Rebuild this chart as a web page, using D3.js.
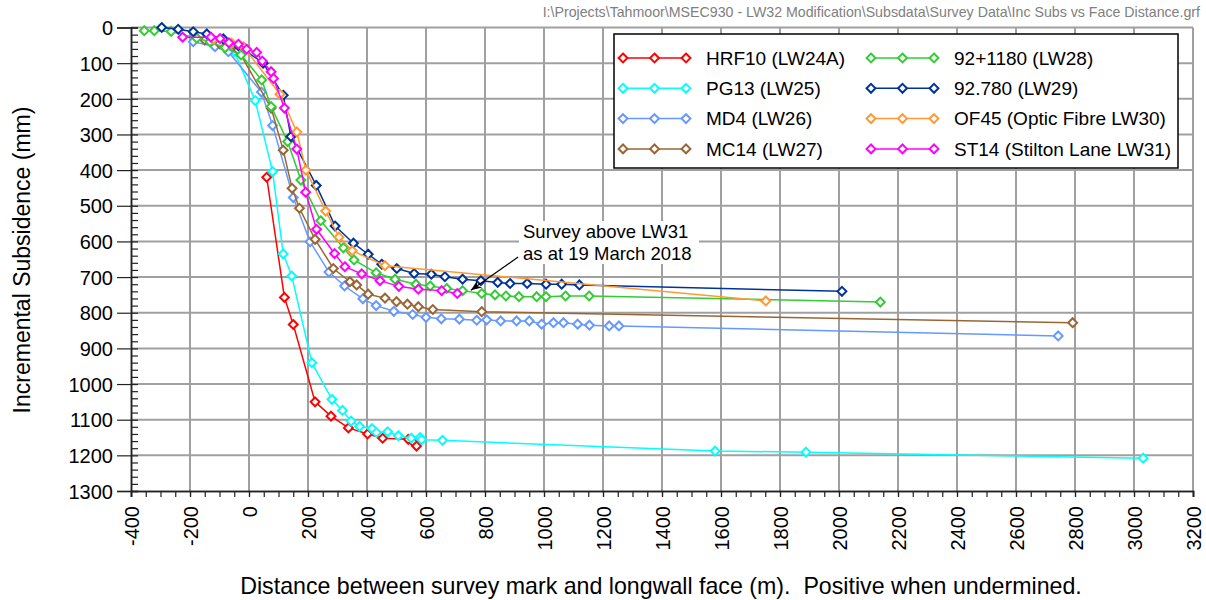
<!DOCTYPE html>
<html>
<head>
  <meta charset="utf-8">
  <style>
    body {
      margin: 0;
      background: white;
    }
    text {
      font-family: Arial, "Liberation Sans", sans-serif;
    }
  </style>
</head>
<body>
  <script src="https://d3js.org/d3.v7.min.js"></script>
  <script>
    var width = 1206, height = 600;

    // values: [distance (m), subsidence (mm)]
    var hrf10 = [[60,420],[120,757],[150,833],[224,1050],[278,1090],[337,1123],[402,1140],[453,1152],[540,1155],[560,1165],[568,1174]];
    var pg13 = [[-120,50],[-50,67],[21,205],[80,404],[116,635],[145,697],[213,940],[281,1043],[317,1074],[346,1104],[375,1119],[417,1125],[432,1136],[470,1134],[506,1145],[550,1152],[580,1150],[585,1156],[656,1158],[1580,1188],[1888,1191],[3031,1208]];
    var md4 = [[-189,40],[-115,54],[-70,68],[42,181],[80,275],[150,477],[207,601],[271,686],[324,725],[386,761],[431,780],[491,796],[555,805],[600,813],[652,817],[713,818],[772,821],[806,820],[853,823],[907,823],[950,823],[992,832],[1032,828],[1066,828],[1114,832],[1154,835],[1221,837],[1254,837],[2743,865]];
    var mc14 = [[-150,35],[-100,45],[-37,63],[75,226],[116,344],[146,451],[171,507],[224,594],[286,676],[342,713],[365,722],[404,748],[461,759],[500,769],[537,776],[574,783],[623,791],[789,797],[2792,828]];
    var g1180 = [[-355,9],[-321,9],[-264,11],[-177,30],[-132,40],[-81,57],[-27,77],[43,147],[75,222],[131,320],[176,428],[243,542],[320,618],[356,652],[431,688],[495,706],[566,720],[614,725],[670,732],[724,738],[789,746],[834,750],[871,753],[915,755],[975,755],[1007,755],[1073,753],[1153,753],[2140,770]];
    var b780 = [[-296,0],[-240,5],[-189,12],[-143,18],[-87,32],[-36,51],[48,100],[116,190],[142,306],[228,443],[292,557],[354,605],[404,636],[450,664],[501,676],[560,690],[618,692],[664,699],[724,706],[786,710],[843,715],[885,718],[943,718],[1007,720],[1060,720],[1120,722],[2010,740]];
    var of45 = [[-121,33],[-59,44],[-19,54],[105,187],[162,293],[193,400],[260,515],[305,588],[350,626],[461,668],[1752,767]];
    var st14 = [[-225,27],[-129,27],[-98,31],[-68,43],[-36,47],[-8,61],[26,70],[45,94],[75,124],[83,143],[120,226],[162,341],[192,462],[229,566],[290,634],[325,671],[382,691],[444,710],[508,726],[574,734],[653,738],[706,746]];

    var seriesNames = ["HRF10 (LW24A)", "PG13 (LW25)", "MD4 (LW26)", "MC14 (LW27)",
                       "92+1180 (LW28)", "92.780 (LW29)", "OF45 (Optic Fibre LW30)", "ST14 (Stilton Lane LW31)"];
    var seriesData = [hrf10, pg13, md4, mc14, g1180, b780, of45, st14];
    var seriesColors = ["#ff0000", "#00ffff", "#6699ff", "#996633", "#33cc33", "#003399", "#ff9933", "#ff00ff"];

    var xTicks = d3.range(-400, 3201, 200);
    var yTicks = d3.range(0, 1301, 100);

    var note = ["Survey above LW31", "as at 19 March 2018"];
    var arrowFrom = [912, 644], arrowTo = [752, 737];

    var svg = d3.select("body").append("svg")
        .attr("width", width).attr("height", height);

    var x = d3.scaleLinear().domain([-400, 3200]).range([131, 1193]);
    var y = d3.scaleLinear().domain([0, 1300]).range([27.5, 491]);

    // file path header
    svg.append("text")
        .attr("x", 1200).attr("y", 17)
        .attr("text-anchor", "end")
        .style("font-size", "14.2px")
        .style("fill", "#808080")
        .text("I:\\Projects\\Tahmoor\\MSEC930 - LW32 Modification\\Subsdata\\Survey Data\\Inc Subs vs Face Distance.grf");

    // grid
    svg.append("g").selectAll("line")
        .data(xTicks.slice(1))
      .enter().append("line")
        .attr("x1", d => x(d)).attr("x2", d => x(d))
        .attr("y1", y(0)).attr("y2", y(1300))
        .style("stroke", "#a0a0a0").style("stroke-width", 2);
    svg.append("g").selectAll("line")
        .data(yTicks.slice(0, -1))
      .enter().append("line")
        .attr("x1", x(-400)).attr("x2", x(3200))
        .attr("y1", d => y(d)).attr("y2", d => y(d))
        .style("stroke", "#a0a0a0").style("stroke-width", 2);

    // axes
    var plain = d => String(d);
    var yAxis = svg.append("g")
        .attr("transform", "translate(" + x(-400) + ",0)")
        .call(d3.axisLeft(y).tickValues(yTicks).tickSize(14).tickPadding(4).tickFormat(plain));
    var yMinor = svg.append("g")
        .attr("transform", "translate(" + x(-400) + ",0)")
        .call(d3.axisLeft(y).tickValues(d3.range(0, 1301, 20)).tickSize(-7).tickFormat(""));
    var xAxis = svg.append("g")
        .attr("transform", "translate(0," + y(1300) + ")")
        .call(d3.axisBottom(x).tickValues(xTicks).tickSize(6).tickFormat(plain));
    var xMinor = svg.append("g")
        .attr("transform", "translate(0," + y(1300) + ")")
        .call(d3.axisBottom(x).tickValues(d3.range(-400, 3201, 50)).tickSize(6).tickFormat(""));

    [yAxis, yMinor, xAxis, xMinor].forEach(function(g) {
      g.select(".domain").style("stroke", "#222").style("stroke-width", 1.5);
      g.selectAll(".tick line").style("stroke", "#222").style("stroke-width", 1.2);
    });
    yAxis.selectAll("text")
        .style("font-size", "20px").style("fill", "#000")
        .attr("dy", "0.36em");
    xAxis.selectAll("text")
        .attr("transform", "rotate(-90)")
        .attr("x", -15).attr("y", 0).attr("dy", "0.36em")
        .style("text-anchor", "end")
        .style("font-size", "20px").style("fill", "#000");

    // axis titles
    svg.append("text")
        .attr("transform", "translate(30,260) rotate(-90)")
        .attr("text-anchor", "middle")
        .style("font-size", "23px")
        .text("Incremental Subsidence (mm)");
    svg.append("text")
        .attr("x", 661).attr("y", 594)
        .attr("text-anchor", "middle")
        .style("font-size", "23.2px")
        .style("white-space", "pre")
        .text("Distance between survey mark and longwall face (m).  Positive when undermined.");

    // series
    var line = d3.line().x(d => x(d[0])).y(d => y(d[1]));
    var diamond = d3.symbol().type(d3.symbolDiamond2).size(50);

    seriesData.forEach(function(data, i) {
      var g = svg.append("g");
      g.append("path")
          .datum(data)
          .attr("d", line)
          .style("fill", "none")
          .style("stroke", seriesColors[i])
          .style("stroke-width", 1.5);
      g.selectAll("path.pt")
          .data(data)
        .enter().append("path")
          .attr("class", "pt")
          .attr("d", diamond)
          .attr("transform", d => "translate(" + x(d[0]) + "," + y(d[1]) + ")")
          .style("fill", "white")
          .style("stroke", seriesColors[i])
          .style("stroke-width", 2);
    });

    // annotation
    svg.append("rect")
        .attr("x", 519).attr("y", 221)
        .attr("width", 180).attr("height", 43)
        .style("fill", "white");
    svg.append("g").selectAll("text")
        .data(note)
      .enter().append("text")
        .attr("x", 523)
        .attr("y", (d, i) => 238 + i * 22)
        .style("font-size", "18.5px")
        .text(d => d);
    svg.append("defs").append("marker")
        .attr("id", "arrow")
        .attr("viewBox", "0 0 10 10")
        .attr("refX", 10).attr("refY", 5)
        .attr("markerWidth", 9).attr("markerHeight", 9)
        .attr("orient", "auto")
      .append("path")
        .attr("d", "M0,1L10,5L0,9L3,5Z")
        .style("fill", "black");
    svg.append("line")
        .attr("x1", x(arrowFrom[0])).attr("y1", y(arrowFrom[1]))
        .attr("x2", x(arrowTo[0])).attr("y2", y(arrowTo[1]))
        .attr("marker-end", "url(#arrow)")
        .style("stroke", "black").style("stroke-width", 1.2);

    // legend
    var legend = svg.append("g");
    legend.append("rect")
        .attr("x", 614).attr("y", 34)
        .attr("width", 564).attr("height", 134)
        .style("fill", "white")
        .style("stroke", "black").style("stroke-width", 1.5);

    seriesNames.forEach(function(name, i) {
      var col = Math.floor(i / 4), row = i % 4;
      var lx = col === 0 ? 623 : 871;
      var ly = 58 + row * 30.3;
      var item = legend.append("g").attr("transform", "translate(" + lx + "," + ly + ")");
      item.append("line")
          .attr("x1", 0).attr("x2", 63)
          .style("stroke", seriesColors[i]).style("stroke-width", 1.5);
      item.selectAll("path")
          .data([0, 31.5, 63])
        .enter().append("path")
          .attr("d", diamond)
          .attr("transform", d => "translate(" + d + ",0)")
          .style("fill", "white")
          .style("stroke", seriesColors[i])
          .style("stroke-width", 2);
      item.append("text")
          .attr("x", 83).attr("dy", "0.36em")
          .style("font-size", "19px")
          .text(name);
    });
  </script>
</body>
</html>
